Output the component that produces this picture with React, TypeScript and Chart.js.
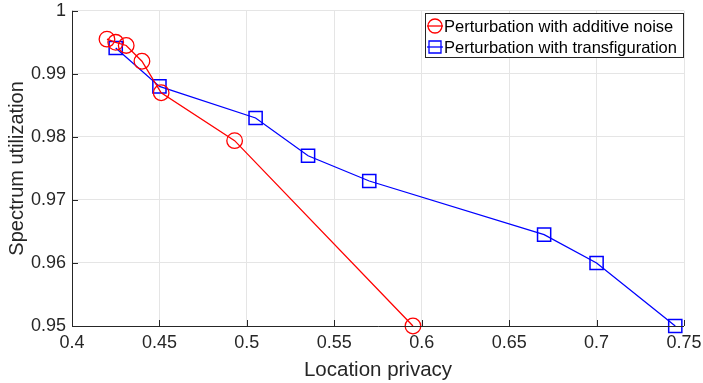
import React, { useEffect, useRef } from "react";
import { Chart, registerables } from "chart.js";

Chart.register(...registerables);

const noiseX = [0.42, 0.425, 0.431, 0.44, 0.451, 0.493, 0.595];
const noiseY = [0.9955, 0.995, 0.9945, 0.992, 0.987, 0.9794, 0.95];
const transX = [0.425, 0.45, 0.505, 0.535, 0.57, 0.67, 0.7, 0.745];
const transY = [0.9941, 0.988, 0.983, 0.977, 0.973, 0.9645, 0.96, 0.95];
const xTicks = [0.4, 0.45, 0.5, 0.55, 0.6, 0.65, 0.7, 0.75];
const yTicks = [0.95, 0.96, 0.97, 0.98, 0.99, 1];
const seriesNames = ["Perturbation with additive noise", "Perturbation with transfiguration"];
const xTitle = "Location privacy";
const yTitle = "Spectrum utilization";

const FONT = "'Liberation Sans', Arial, sans-serif";

const matlabPlugin = {
  id: "matlab",
  afterDraw(chart: any) {
    const ctx = chart.ctx;
    const area = chart.chartArea;
    const xs = chart.scales.x;
    const ys = chart.scales.y;
    ctx.save();
    ctx.strokeStyle = "#262626";
    ctx.lineWidth = 1;
    ctx.beginPath();
    ctx.moveTo(area.left + 0.5, area.top);
    ctx.lineTo(area.left + 0.5, area.bottom + 0.5);
    ctx.lineTo(area.right, area.bottom + 0.5);
    ctx.stroke();
    ctx.beginPath();
    xTicks.forEach((v) => {
      const px = Math.round(xs.getPixelForValue(v)) + 0.5;
      ctx.moveTo(px, area.bottom);
      ctx.lineTo(px, area.bottom - 6);
    });
    yTicks.forEach((v) => {
      const py = Math.round(ys.getPixelForValue(v)) + 0.5;
      ctx.moveTo(area.left, py);
      ctx.lineTo(area.left + 6, py);
    });
    ctx.stroke();

    // legend
    const bx = 425, by = 13, bw = 258, bh = 44;
    ctx.fillStyle = "#ffffff";
    ctx.fillRect(bx, by, bw, bh);
    ctx.strokeStyle = "#262626";
    ctx.lineWidth = 1;
    ctx.strokeRect(bx + 0.5, by + 0.5, bw, bh);
    ctx.font = "16.5px " + FONT;
    ctx.textBaseline = "middle";
    ctx.textAlign = "left";
    const rows = [
      { y: by + 13, color: "#ff0000", shape: "circle" },
      { y: by + 34, color: "#0000ff", shape: "rect" },
    ];
    rows.forEach((r, i) => {
      ctx.strokeStyle = r.color;
      ctx.lineWidth = 1.3;
      ctx.beginPath();
      ctx.moveTo(bx + 2, r.y);
      ctx.lineTo(bx + 18, r.y);
      ctx.stroke();
      ctx.beginPath();
      if (r.shape === "circle") {
        ctx.arc(bx + 10, r.y, 7, 0, Math.PI * 2);
      } else {
        ctx.rect(bx + 4, r.y - 6, 12, 12);
      }
      ctx.stroke();
      ctx.fillStyle = "#000000";
      ctx.fillText(seriesNames[i], bx + 19, r.y + 1);
    });
    ctx.restore();
  },
};

export default function App() {
  const ref = useRef<HTMLCanvasElement>(null);
  useEffect(() => {
    document.body.style.margin = "0";
    const canvas = ref.current!;
    const chart = new Chart(canvas, {
      type: "line",
      data: {
        datasets: [
          {
            label: seriesNames[0],
            data: noiseX.map((x, i) => ({ x, y: noiseY[i] })),
            borderColor: "#ff0000",
            backgroundColor: "rgba(0,0,0,0)",
            borderWidth: 1.3,
            pointStyle: "circle",
            pointRadius: 7.8,
            pointBorderWidth: 1.3,
            pointBorderColor: "#ff0000",
            pointBackgroundColor: "rgba(0,0,0,0)",
            clip: false as any,
          },
          {
            label: seriesNames[1],
            data: transX.map((x, i) => ({ x, y: transY[i] })),
            borderColor: "#0000ff",
            backgroundColor: "rgba(0,0,0,0)",
            borderWidth: 1.3,
            pointStyle: "rect",
            pointRadius: 9.3,
            pointBorderWidth: 1.5,
            pointBorderColor: "#0000ff",
            pointBackgroundColor: "rgba(0,0,0,0)",
            clip: false as any,
          },
        ],
      },
      options: {
        responsive: false,
        animation: false,
        layout: { padding: { left: 0, right: 19, top: 10, bottom: 0 } },
        plugins: { legend: { display: false }, tooltip: { enabled: false } },
        scales: {
          x: {
            type: "linear",
            min: 0.4,
            max: 0.75,
            afterBuildTicks: (s: any) => {
              s.ticks = xTicks.map((v) => ({ value: v }));
            },
            afterFit: (s: any) => {
              s.height = 57;
              s.paddingLeft = 0;
              s.paddingRight = 0;
            },
            grid: { color: "#e5e5e5", drawTicks: false, tickLength: 0 },
            border: { display: false },
            ticks: {
              padding: 6,
              color: "#262626",
              font: { family: FONT, size: 18 },
              callback: (v: any) => String(Number(v)),
              maxRotation: 0,
              autoSkip: false,
            },
            title: {
              display: true,
              text: xTitle,
              color: "#262626",
              font: { family: FONT, size: 20.5 },
              padding: { top: 0, bottom: 0 },
            },
          },
          y: {
            type: "linear",
            min: 0.95,
            max: 1,
            afterBuildTicks: (s: any) => {
              s.ticks = yTicks.map((v) => ({ value: v }));
            },
            afterFit: (s: any) => {
              s.width = 72;
              s.paddingTop = 0;
              s.paddingBottom = 0;
            },
            grid: { color: "#e5e5e5", drawTicks: false, tickLength: 0 },
            border: { display: false },
            ticks: {
              padding: 6,
              color: "#262626",
              font: { family: FONT, size: 18 },
              callback: (v: any) => String(Number(v)),
              autoSkip: false,
            },
            title: {
              display: true,
              text: yTitle,
              color: "#262626",
              font: { family: FONT, size: 20 },
              padding: { top: 5, bottom: 0 },
            },
          },
        },
      },
      plugins: [matlabPlugin],
    });
    return () => chart.destroy();
  }, []);
  return (
    <div style={{ position: "absolute", left: 0, top: 0, width: 703, height: 383, background: "#fff" }}>
      <canvas ref={ref} width={703} height={383} style={{ width: 703, height: 383 }} />
    </div>
  );
}
